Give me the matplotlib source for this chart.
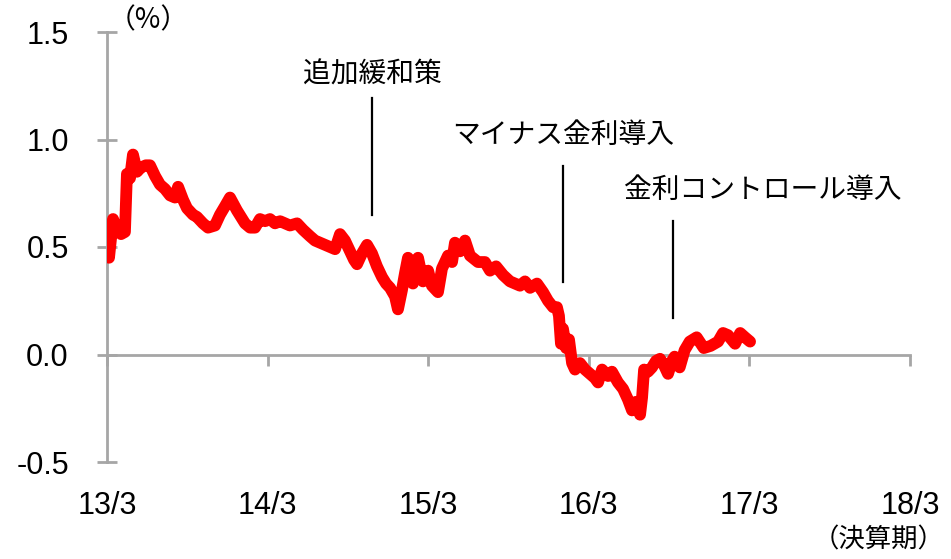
import matplotlib
matplotlib.use("Agg")
import matplotlib.pyplot as plt

# ---- data (x = months since 2013/3, y = yield %) ----
months = [0.00, 0.15, 0.45, 0.75, 1.05, 1.34, 1.49, 1.72, 1.94, 2.24, 2.54, 2.91,
          3.21, 3.59, 3.96, 4.33, 4.71, 5.08, 5.31, 5.68, 5.98, 6.43, 6.72, 7.17,
          7.55, 8.07, 8.44, 8.82, 9.19, 9.71, 10.31, 10.69, 11.06, 11.43, 11.81,
          12.18, 12.55, 12.93, 13.30, 13.67, 14.20, 14.65, 15.17, 15.54, 15.92,
          16.29, 16.66, 17.04, 17.41, 17.78, 18.16, 18.46, 18.68, 19.05, 19.43,
          19.80, 20.17, 20.55, 20.85, 21.15, 21.52, 21.74, 22.04, 22.27, 22.49,
          22.86, 23.24, 23.61, 23.99, 24.28, 24.73, 25.03, 25.48, 25.78, 26.00,
          26.38, 26.75, 27.12, 27.72, 28.24, 28.62, 29.07, 29.59, 30.11, 30.49,
          30.86, 31.23, 31.61, 32.13, 32.58, 32.95, 33.33, 33.62, 33.77, 33.92,
          34.07, 34.30, 34.52, 34.75, 34.97, 35.34, 35.72, 36.09, 36.46, 36.69,
          36.99, 37.44, 37.73, 38.18, 38.56, 38.93, 39.23, 39.53, 39.83, 39.98,
          40.13, 40.42, 40.72, 41.02, 41.32, 41.62, 41.92, 42.22, 42.41, 42.79,
          43.16, 43.54, 44.06, 44.59, 45.10, 45.66, 46.03, 46.40, 46.93, 47.31,
          47.67, 48.05]
yields = [0.55, 0.45, 0.63, 0.58, 0.56, 0.57, 0.84, 0.82, 0.93, 0.85, 0.87, 0.88,
          0.88, 0.83, 0.79, 0.77, 0.74, 0.73, 0.78, 0.72, 0.68, 0.65, 0.64, 0.61,
          0.59, 0.60, 0.65, 0.69, 0.73, 0.67, 0.61, 0.59, 0.59, 0.63, 0.62,
          0.63, 0.61, 0.62, 0.61, 0.60, 0.61, 0.58, 0.55, 0.53, 0.52,
          0.51, 0.50, 0.49, 0.56, 0.53, 0.48, 0.44, 0.42, 0.47, 0.51,
          0.47, 0.41, 0.36, 0.33, 0.31, 0.27, 0.21, 0.30, 0.38, 0.45,
          0.33, 0.45, 0.34, 0.39, 0.32, 0.29, 0.40, 0.46, 0.43, 0.52,
          0.48, 0.53, 0.46, 0.43, 0.43, 0.39, 0.41, 0.37, 0.34, 0.33,
          0.32, 0.34, 0.31, 0.33, 0.29, 0.25, 0.22, 0.22, 0.18, 0.05,
          0.12, 0.03, 0.07, -0.04, -0.07, -0.04, -0.07, -0.09, -0.11, -0.13,
          -0.07, -0.10, -0.08, -0.13, -0.16, -0.21, -0.26, -0.22, -0.28, -0.20,
          -0.07, -0.08, -0.06, -0.03, -0.02, -0.05, -0.09, -0.03, -0.01, -0.06,
          0.02, 0.06, 0.08, 0.03, 0.04, 0.06, 0.10, 0.09, 0.05, 0.10,
          0.08, 0.06]

tick_months = [0, 12, 24, 36, 48, 60]
tick_labels = ["13/3", "14/3", "15/3", "16/3", "17/3", "18/3"]
y_ticks = [-0.5, 0.0, 0.5, 1.0, 1.5]
y_labels = ["-0.5", "0.0", "0.5", "1.0", "1.5"]

event_names = ["追加緩和策", "マイナス金利導入", "金利コントロール導入"]
event_months = [19.80, 34.07, 42.29]

# ---- layout for annotations (text y, line top, line bottom, text x) ----
event_text_y = [1.30, 1.02, 0.763]
event_line_top = [1.195, 0.879, 0.623]
event_line_bot = [0.647, 0.335, 0.172]
event_text_x = [19.80, 34.07, 38.6]

GRAY = "#A6A6A6"
NUM_FONT = "Liberation Sans"
JP_FONT = ["Noto Sans CJK JP", "DejaVu Sans"]

fig = plt.figure(figsize=(9.51, 5.59), dpi=100)
ax = fig.add_axes([107 / 951, 1 - 462 / 559, (910 - 107) / 951, (462 - 32) / 559])

ax.plot(months, yields, color="#FF0000", linewidth=8.5,
        solid_joinstyle="round", solid_capstyle="round", zorder=3)

ax.set_xlim(0, 60)
ax.set_ylim(-0.5, 1.5)

for s in ["top", "right", "bottom"]:
    ax.spines[s].set_visible(False)
ax.spines["left"].set_color(GRAY)
ax.spines["left"].set_linewidth(2.0)

ax.set_yticks(y_ticks, labels=y_labels)
ax.tick_params(axis="y", direction="inout", length=15, width=2.0, color=GRAY,
               pad=20, labelsize=22)
for lab in ax.get_yticklabels():
    lab.set_fontfamily(NUM_FONT)

ax.set_xticks(tick_months, labels=tick_labels)
ax.tick_params(axis="x", length=0, pad=21, labelsize=22)
for lab in ax.get_xticklabels():
    lab.set_fontfamily(NUM_FONT)

# zero axis line with ticks
sec = ax.secondary_xaxis(0.25)
sec.set_xticks(tick_months, labels=[""] * len(tick_months))
sec.tick_params(axis="x", direction="out", length=8, width=2.0, color=GRAY)
sec.spines["bottom"].set_color(GRAY)
sec.spines["bottom"].set_linewidth(2.0)

# event annotations
for name, m, ty, lt, lb, tx in zip(event_names, event_months, event_text_y,
                                   event_line_top, event_line_bot, event_text_x):
    ax.plot([m, m], [lb, lt], color="black", linewidth=1.6, zorder=2)
    ha = "center" if tx == m else "left"
    ax.text(tx, ty, name, ha=ha, va="center", fontsize=20, family=JP_FONT)

# unit labels
fig.text(108 / 951, 1 - 20 / 559, "（%）", ha="left", va="center",
         fontsize=20, family=JP_FONT)
fig.text(945 / 951, 1 - 540 / 559, "（決算期）", ha="right", va="center",
         fontsize=19, family=JP_FONT)

fig.savefig("out.png", dpi=100)
